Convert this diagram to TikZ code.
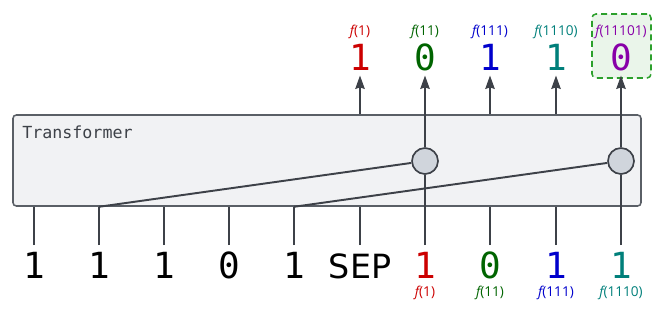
\documentclass[tikz,border=0pt]{standalone}
\usepackage{fontspec}
\setmainfont{DejaVu Sans}
\newfontfamily\monof{DejaVu Sans Mono}
\newfontfamily\labf{Open Sans}
\usetikzlibrary{arrows.meta}
\definecolor{lineC}{HTML}{3D4148}
\definecolor{boxF}{HTML}{F1F2F4}
\definecolor{boxD}{HTML}{5A5F66}
\definecolor{gateF}{HTML}{D0D5DC}
\definecolor{cR}{HTML}{CC0000}
\definecolor{cG}{HTML}{006400}
\definecolor{cB}{HTML}{0000CC}
\definecolor{cT}{HTML}{007F7A}
\definecolor{cP}{HTML}{8800A8}
\definecolor{hlD}{HTML}{2CA02C}
\definecolor{hlF}{HTML}{EAF5EA}
\begin{document}
\begin{tikzpicture}[x=0.75pt,y=-0.75pt,
  wire/.style={draw=lineC, line width=1.45pt},
  arr/.style={wire, -{Stealth[length=10pt,width=7pt,inset=1pt]}},
  big/.style={font=\monof\fontsize{27}{27}\selectfont, anchor=base, inner sep=0pt},
  sep/.style={font=\fontsize{25}{25}\selectfont, anchor=base, inner sep=0pt},
  lab/.style={font=\labf\fontsize{10.2}{10.2}\selectfont, anchor=base, inner sep=0pt},
  gate/.style={circle, draw=lineC, fill=gateF, line width=1.25pt, minimum size=19.5pt, inner sep=0pt},
  tbox/.style={draw=boxD, fill=boxF, line width=1.15pt, rounded corners=2.5pt, minimum width=471pt, minimum height=68.25pt, inner sep=0pt},
  hlbox/.style={draw=hlD, fill=hlF, line width=1.15pt, dash pattern=on 4.5pt off 3pt, rounded corners=3pt, minimum width=44.25pt, minimum height=48pt, inner sep=0pt}
]
\useasboundingbox (0,0) rectangle (665,315);

% transformer box
\node[tbox] (tf) at (327,160.5) {};
\node[anchor=base west, inner sep=0pt, text=lineC, font=\monof\fontsize{12.5}{12.5}\selectfont] (tft) at (22,138) {Transformer};

% highlight box
\node[hlbox] (hl) at (621.5,46) {};

% input tokens
\node[big] (b0) at (34,278) {1};
\node[big] (b1) at (99,278) {1};
\node[big] (b2) at (164,278) {1};
\node[big] (b3) at (229,278) {0};
\node[big] (b4) at (294,278) {1};
\node[sep] (b5) at (360,278) {SEP};
\node[big, text=cR] (b6) at (425,278) {1};
\node[big, text=cG] (b7) at (490,278) {0};
\node[big, text=cB] (b8) at (556,278) {1};
\node[big, text=cT] (b9) at (621,278) {1};

\node[lab, text=cR] (l6) at (425,296) {{\itshape f}(1)};
\node[lab, text=cG] (l7) at (490,296) {{\itshape f}(11)};
\node[lab, text=cB] (l8) at (556,296) {{\itshape f}(111)};
\node[lab, text=cT] (l9) at (621,296) {{\itshape f}(1110)};

% line ends above inputs
\foreach \i/\x in {0/34,1/99,2/164,3/229,4/294,5/360,6/425,7/490,8/556,9/621}
  \coordinate (in\i) at (\x,245);

% outputs
\node[big, text=cR] (o5) at (360,70) {1};
\node[big, text=cG] (o6) at (425,70) {0};
\node[big, text=cB] (o7) at (490,70) {1};
\node[big, text=cT] (o8) at (556,70) {1};
\node[big, text=cP] (o9) at (621,70) {0};

\node[lab, text=cR] (t5) at (360,35.5) {{\itshape f}(1)};
\node[lab, text=cG] (t6) at (425,35.5) {{\itshape f}(11)};
\node[lab, text=cB] (t7) at (490,35.5) {{\itshape f}(111)};
\node[lab, text=cT] (t8) at (556,35.5) {{\itshape f}(1110)};
\node[lab, text=cP] (t9) at (621,35.5) {{\itshape f}(11101)};

\foreach \i/\x in {5/360,6/425,7/490,8/556,9/621}
  \coordinate (tip\i) at (\x,75.5);

% gates
\node[gate] (g1) at (425,161) {};
\node[gate] (g2) at (621,161) {};

% plain input wires
\foreach \i in {0,1,2,3,4,5,7,8}
  \draw[wire] (in\i) -- (in\i |- tf.south);

% attention lines
\draw[wire] (in1 |- tf.south) -- (g1);
\draw[wire] (in4 |- tf.south) -- (g2);

% through wires
\draw[wire] (in6) -- (g1.south);
\draw[wire] (in9) -- (g2.south);
\draw[arr] (g1.north) -- (tip6);
\draw[arr] (g2.north) -- (tip9);

% output arrows
\foreach \i in {5,7,8}
  \draw[arr] (tip\i |- tf.north) -- (tip\i);
\end{tikzpicture}
\end{document}
